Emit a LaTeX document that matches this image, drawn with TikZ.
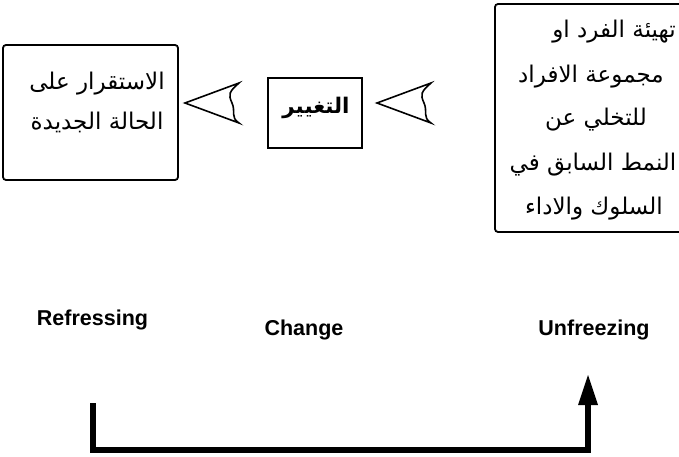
\documentclass[tikz,border=0pt]{standalone}
\usepackage{fontspec}
\setmainfont{Liberation Sans}
\newfontfamily\arabicfont[Script=Arabic]{DejaVu Sans}
\TeXXeTstate=1
\begin{document}
\begin{tikzpicture}[x=1pt,y=-1pt,
  box/.style={draw, line width=1.8pt, rounded corners=3pt, inner sep=0pt},
  corebox/.style={draw, line width=2.6pt, inner sep=0pt},
  artext/.style={inner sep=0pt, anchor=base, font=\arabicfont\fontsize{23}{26}\selectfont},
  entext/.style={inner sep=0pt, anchor=base, font=\bfseries\fontsize{21.5}{24}\selectfont},
  pointer/.style={draw, line width=1.6pt, line join=miter},
  bar/.style={line width=6pt}]
\useasboundingbox (0,0) rectangle (679,457);
\clip (0,0) rectangle (679,457);

% the three stage boxes
\node[box, minimum width=175pt, minimum height=135pt] (stable) at (90.5,112.5) {};
\node[corebox, minimum width=94pt, minimum height=70pt] (change) at (315,113) {};
\node[box, minimum width=195pt, minimum height=228pt] (prepare) at (592.5,118) {};

% texts of the stage boxes
\node[artext] (s1) at (97,90) {\beginR الاستقرار على\endR};
\node[artext] (s2) at (97,130) {\beginR الحالة الجديدة\endR};
\node[artext, font=\arabicfont\bfseries\fontsize{21.5}{24}\selectfont] (c1) at (316,114) {\beginR التغيير\endR};
\node[artext] (p1) at (614,38) {\beginR تهيئة الفرد او\endR};
\node[artext] (p2) at (591,83) {\beginR مجموعة الافراد\endR};
\node[artext] (p3) at (596,126) {\beginR للتخلي عن\endR};
\node[artext] (p4) at (593,171) {\beginR النمط السابق في\endR};
\node[artext] (p5) at (594,214) {\beginR السلوك والاداء\endR};

% open pointers between the boxes
\coordinate (t1) at (185,103);
\coordinate (t2) at (377,103);
\foreach \t in {t1,t2}
  \draw[pointer] (\t) -- ++(54,-20)
     .. controls +(-10,9) and +(-4,-9) .. ++(-7,20)
     .. controls +(4,9) and +(-9,-6) .. ++(7,20) -- cycle;

% stage names
\node[entext] (refreeze) at (92.5,325) {Refressing};
\node[entext] (chg) at (304,335) {Change};
\node[entext] (unfreeze) at (594,335) {Unfreezing};

% timeline bar with its arrow
\coordinate (la) at (93,403);
\coordinate (lb) at (93,450);
\coordinate (rb) at (588,450);
\coordinate (ra) at (588,405);
\coordinate (tip) at (588,375);
\draw[bar, line cap=butt] (la) -- (lb) -- (rb) -- (ra);
\fill (ra) ++(-10,0) -- (tip) -- ++(10,30) -- cycle;
\end{tikzpicture}
\end{document}
